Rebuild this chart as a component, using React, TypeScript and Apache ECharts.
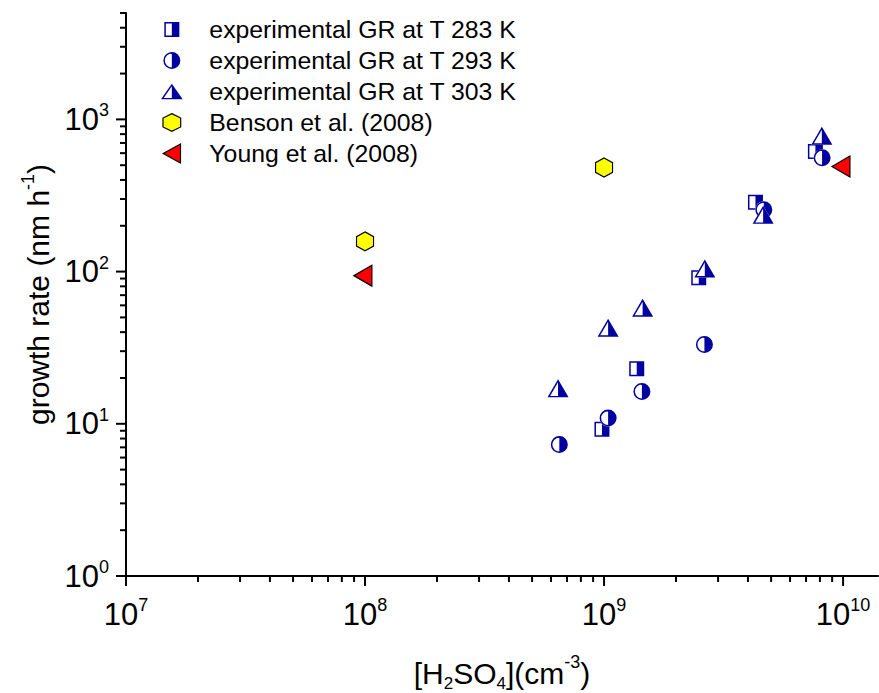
import React, { useEffect, useRef } from 'react';
import * as echarts from 'echarts';

const FONT = '"Liberation Sans", Arial, Helvetica, sans-serif';
const BLUE = '#0000a0';

// ---- data ----
const x283 = [9.8e8, 1.37e9, 2.49e9, 4.3e9, 7.66e9];
const y283 = [9.2, 23.0, 91, 285, 615];

const x293 = [6.5e8, 1.04e9, 1.44e9, 2.63e9, 4.66e9, 8.17e9];
const y293 = [7.3, 10.9, 16.3, 33.2, 255, 559];

const x303 = [6.42e8, 1.04e9, 1.45e9, 2.64e9, 4.63e9, 8.15e9];
const y303 = [17.1, 42.8, 57.9, 104.7, 236, 780];

const xBenson = [1e8, 1e9];
const yBenson = [158, 483];

const xYoung = [9.8e7, 9.8e9];
const yYoung = [94, 490];

const seriesNames = [
  'experimental GR at T 283 K',
  'experimental GR at T 293 K',
  'experimental GR at T 303 K',
  'Benson et al. (2008)',
  'Young et al. (2008)',
];

// ---- axes ----
const X_MIN = 1e7;
const X_MAX = 1.4e10;
const Y_MIN = 1;
const Y_MAX = 5000;
const xDecades = [1e7, 1e8, 1e9, 1e10];
const yDecades = [1, 10, 100, 1000];
const minorMultipliers = [2, 3, 4, 5, 6, 7, 8, 9];

const minorOf = (decades: number[], max: number) => {
  const out: number[] = [];
  decades.forEach((d) => minorMultipliers.forEach((m) => { if (m * d <= max * 1.0000001) out.push(m * d); }));
  return out;
};
const xMinor = minorOf(xDecades, X_MAX);
const yMinor = minorOf(yDecades, Y_MAX);

const MAJOR_LEN = 10;
const MINOR_LEN = 6;

const tickData = [
  ...xDecades.map((v) => [v, Y_MIN, 0, MAJOR_LEN]),
  ...xMinor.map((v) => [v, Y_MIN, 0, MINOR_LEN]),
  ...yDecades.map((v) => [X_MIN, v, 1, MAJOR_LEN]),
  ...yMinor.map((v) => [X_MIN, v, 1, MINOR_LEN]),
];

// ---- marker shapes (series) ----
const SQ_HALF = 'M50 0L100 0L100 100L50 100Z M50 0L0 0L0 100L50 100L50 90L10 90L10 10L50 10Z';
const CI_HALF = 'M50 0A50 50 0 0 1 50 100Z M50 0A50 50 0 0 0 50 100L50 91A41 41 0 0 1 50 9Z';
const TR_HALF = 'M60 0L120 100L60 100Z M60 0L0 100L60 100L60 92L14.8 92L60 16.6Z';
const TR_HALF_WIDE = 'M69 0L138 100L69 100Z M69 0L0 100L69 100L69 92L17 92L69 16.6Z';
const HEX = 'M43.3 0L86.6 25L86.6 75L43.3 100L0 75L0 25Z';
const HEX_WIDE = 'M50 0L100 25L100 75L50 100L0 75L0 25Z';
const LTRI = 'M0 50L91 0L91 100Z';

// legend icons: same shapes, padded (invisible move-to anchors) so that they keep their own size
const ICON_283 = 'path://M50 -13.3M50 113.3' + SQ_HALF;
const ICON_293 = 'path://M50 -5.9M50 105.9' + CI_HALF;
const ICON_303 = 'path://M69 -10.5M69 110.5' + TR_HALF_WIDE;
const ICON_BENSON = 'path://M50 -3.7M50 103.7' + HEX_WIDE;
const ICON_YOUNG = 'path://' + LTRI;

const zip = (xs: number[], ys: number[]) => xs.map((x, i) => [x, ys[i]]);

const isDecade = (v: number) => {
  const e = Math.log10(v);
  return Math.abs(e - Math.round(e)) < 1e-6;
};

const tickRich = {
  b: { fontSize: 31, lineHeight: 36, fontFamily: FONT, color: '#000' },
  s: { fontSize: 18, lineHeight: 12, verticalAlign: 'top', fontFamily: FONT, color: '#000' },
};

const labelFormatter = (v: number) => (isDecade(v) ? `{b|10}{s|${Math.round(Math.log10(v))}}` : '');

const nameRich = {
  n: { fontSize: 30, lineHeight: 36, fontFamily: FONT, color: '#000' },
  sub: { fontSize: 17, height: 16, lineHeight: 16, verticalAlign: 'bottom', fontFamily: FONT, color: '#000' },
  sup: { fontSize: 18, height: 14, lineHeight: 14, verticalAlign: 'top', fontFamily: FONT, color: '#000' },
};

const underlay = (name: string, symbol: string, size: number | number[], data: number[][]) => ({
  type: 'scatter',
  name,
  symbol,
  symbolSize: size,
  data,
  silent: true,
  itemStyle: { color: '#ffffff', borderWidth: 0, opacity: 1 },
  emphasis: { disabled: true },
});

const option: any = {
  animation: false,
  backgroundColor: '#ffffff',
  grid: { left: 126, right: 1, top: 13, bottom: 117, containLabel: false, outerBoundsMode: 'none' },
  legend: {
    orient: 'vertical',
    left: 156,
    top: 12,
    itemWidth: 65,
    itemHeight: 19,
    itemGap: 6,
    selectedMode: false,
    textStyle: { fontSize: 24.8, lineHeight: 25, fontFamily: FONT, color: '#000' },
    data: [
      { name: seriesNames[0], icon: ICON_283, itemStyle: { borderWidth: 0 } },
      { name: seriesNames[1], icon: ICON_293, itemStyle: { borderWidth: 0 } },
      { name: seriesNames[2], icon: ICON_303, itemStyle: { borderWidth: 0 } },
      { name: seriesNames[3], icon: ICON_BENSON, itemStyle: { borderWidth: 1.2, borderColor: '#000' } },
      { name: seriesNames[4], icon: ICON_YOUNG, itemStyle: { borderWidth: 1.2, borderColor: '#000' } },
    ],
  },
  xAxis: {
    type: 'log',
    logBase: 10,
    min: X_MIN,
    max: X_MAX,
    name: '{n|[H}{sub|2}{n|SO}{sub|4}{n|](cm}{sup|-3}{n|)}',
    nameLocation: 'middle',
    nameGap: 79,
    nameTextStyle: { rich: nameRich },
    axisLine: { show: true, lineStyle: { color: '#000', width: 2 } },
    axisTick: { show: false },
    minorTick: { show: false },
    splitLine: { show: false },
    axisLabel: { formatter: labelFormatter, rich: tickRich, margin: 20, showMaxLabel: false },
  },
  yAxis: {
    type: 'log',
    logBase: 10,
    min: Y_MIN,
    max: Y_MAX,
    name: '{n|growth rate (nm h}{sup|-1}{n|)}',
    nameLocation: 'middle',
    nameGap: 67,
    nameTextStyle: { rich: nameRich },
    axisLine: { show: true, lineStyle: { color: '#000', width: 2 } },
    axisTick: { show: false },
    minorTick: { show: false },
    splitLine: { show: false },
    axisLabel: { formatter: labelFormatter, rich: tickRich, margin: 17, showMaxLabel: false },
  },
  series: [
    {
      type: 'custom',
      name: 'axis ticks',
      silent: true,
      clip: false,
      z: 5,
      dimensions: ['x', 'y', 'kind', 'len'],
      encode: { x: 0, y: 1 },
      data: tickData,
      renderItem: (_params: any, api: any) => {
        const p = api.coord([api.value(0), api.value(1)]);
        const kind = api.value(2);
        const len = api.value(3);
        const shape = kind === 0
          ? { x1: p[0], y1: p[1], x2: p[0], y2: p[1] + len }
          : { x1: p[0] - len, y1: p[1], x2: p[0], y2: p[1] };
        return { type: 'line', shape, style: { stroke: '#000', lineWidth: 2 } };
      },
    },
    underlay('u283', 'rect', 15, zip(x283, y283)),
    {
      type: 'scatter', name: seriesNames[0], symbol: 'path://' + SQ_HALF, symbolSize: 15,
      data: zip(x283, y283), itemStyle: { color: BLUE, borderWidth: 0, opacity: 1 },
    },
    underlay('u293', 'circle', 17, zip(x293, y293)),
    {
      type: 'scatter', name: seriesNames[1], symbol: 'path://' + CI_HALF, symbolSize: 17,
      data: zip(x293, y293), itemStyle: { color: BLUE, borderWidth: 0, opacity: 1 },
    },
    underlay('u303', 'triangle', [21, 18], zip(x303, y303)),
    {
      type: 'scatter', name: seriesNames[2], symbol: 'path://' + TR_HALF, symbolSize: [21, 18],
      data: zip(x303, y303), itemStyle: { color: BLUE, borderWidth: 0, opacity: 1 },
    },
    {
      type: 'scatter', name: seriesNames[3], symbol: 'path://' + HEX, symbolSize: [17, 19],
      data: zip(xBenson, yBenson),
      itemStyle: { color: '#ffff00', borderColor: '#000', borderWidth: 1.2, opacity: 1 },
    },
    {
      type: 'scatter', name: seriesNames[4], symbol: 'path://' + LTRI, symbolSize: [18, 21],
      data: zip(xYoung, yYoung),
      itemStyle: { color: '#ff0000', borderColor: '#000', borderWidth: 1.2, opacity: 1 },
    },
  ],
};

export default function App() {
  const ref = useRef<HTMLDivElement>(null);
  useEffect(() => {
    if (!ref.current) return;
    const chart = echarts.init(ref.current, null, { renderer: 'svg' });
    chart.setOption(option);
    return () => chart.dispose();
  }, []);
  return (
    <div
      ref={ref}
      style={{ position: 'absolute', left: 0, top: 0, width: 879, height: 693, background: '#fff' }}
    />
  );
}
